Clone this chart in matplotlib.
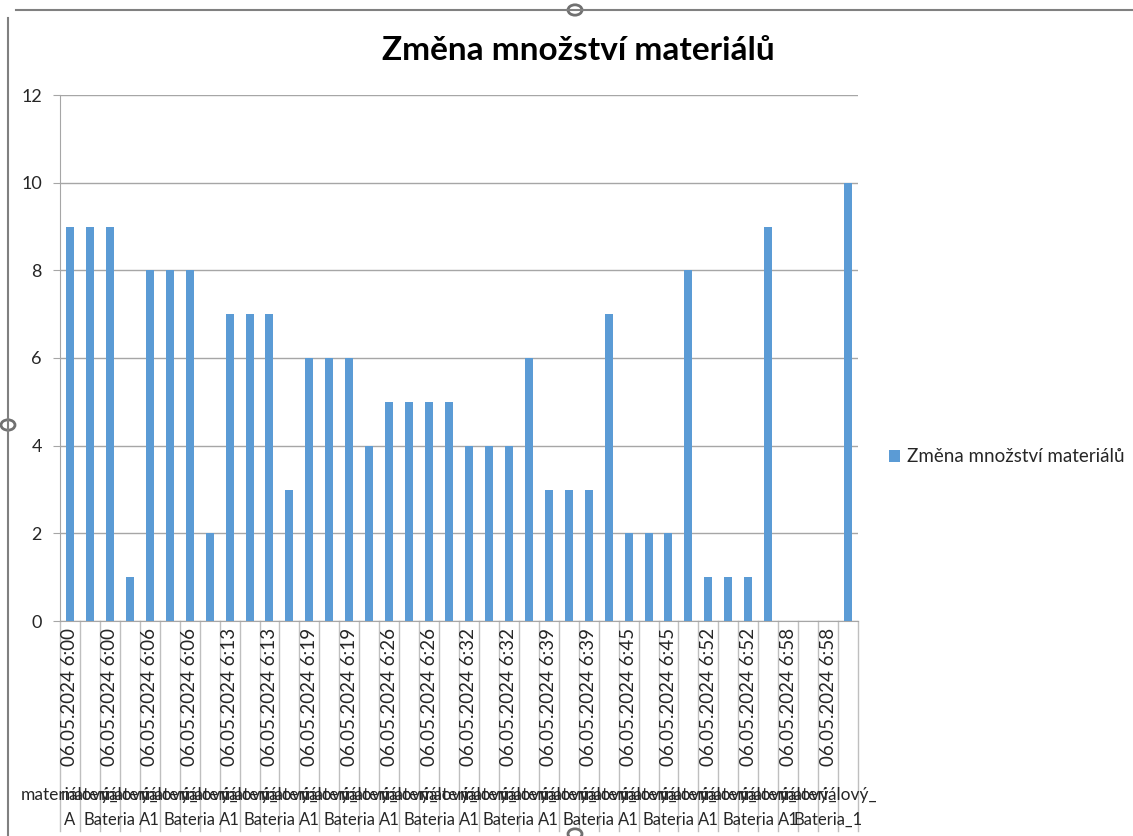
import matplotlib.pyplot as plt
from matplotlib.lines import Line2D
from matplotlib.patches import Circle
import numpy as np

plt.rcParams['font.family'] = ['Lato', 'DejaVu Sans']

# data
times = ["6:00", "6:06", "6:13", "6:19", "6:26", "6:32", "6:39", "6:45", "6:52", "6:58"]
dates = ["06.05.2024 " + t for t in times for _ in range(4)]
suffixes = ["A1", "Cm", "Bateria", "lab"]
names = ["materiálový_" + s for t in times for s in suffixes]
names[0] = "materiálový_A"
names[38] = "materiálový_Bateria_1"
values = [9, 9, 9, 1, 8, 8, 8, 2, 7, 7, 7, 3, 6, 6, 6, 4, 5, 5, 5, 5,
          4, 4, 4, 6, 3, 3, 3, 7, 2, 2, 2, 8, 1, 1, 1, 9, 0, 0, 0, 10]
series = "Změna množství materiálů"

W, H = 1133, 836
fig = plt.figure(figsize=(W / 100, H / 100), dpi=100)
ax = fig.add_axes([60 / W, 1 - 621 / H, 798 / W, 526 / H])

x = np.arange(len(values))
ax.bar(x, values, width=0.4, color="#5b9bd5", label=series, zorder=3)
ax.set_xlim(-0.5, len(values) - 0.5)
ax.set_ylim(0, 12)
ax.set_yticks(range(0, 13, 2))
ax.yaxis.grid(True, color="#a6a6a6", lw=1, zorder=0)
for s in ["top", "right"]:
    ax.spines[s].set_visible(False)
ax.spines["left"].set_color("#a6a6a6")
ax.spines["bottom"].set_color("#a6a6a6")
ax.tick_params(axis="y", length=5, color="#a6a6a6", labelsize=13, labelcolor="#262626", pad=8)
ax.set_xticks([])

# category separators below axis
tr = ax.get_xaxis_transform()
for b in np.arange(-0.5, len(values), 1.0):
    ax.plot([b, b], [0, -0.40], color="#bfbfbf", lw=1, transform=tr, clip_on=False)

for i in range(0, len(values), 2):
    ax.text(x[i], -0.013, dates[i], rotation=90, ha="center", va="top",
            fontsize=13.5, color="#262626", transform=tr)
    pre, suf = names[i].split("_", 1)
    ax.text(x[i], -0.331, pre + "_", ha="center", va="center",
            fontsize=12.5, color="#262626", transform=tr)
    ax.text(x[i], -0.378, suf, ha="center", va="center",
            fontsize=12, color="#262626", transform=tr)

fig.text(0.51, 1 - 50 / H, series, ha="center", va="center",
         fontsize=24, fontweight="bold", color="black")

fig.legend(loc="center left", bbox_to_anchor=(872 / W, 1 - 457 / H), frameon=False,
           handlelength=0.6, handleheight=0.6, handletextpad=0.35, fontsize=13.5,
           labelcolor="#262626")

# chart area frame and handles
fig.add_artist(Line2D([8 / W, 8 / W], [0, 1 - 18 / H], color="#808080", lw=1.5))
fig.add_artist(Line2D([16 / W, 1], [1 - 10 / H, 1 - 10 / H], color="#808080", lw=1.5))
for cx, cy in [(575, 10), (8, 425), (575, 834)]:
    fig.add_artist(Circle((cx / W, 1 - cy / H), 7 / W, transform=fig.transFigure,
                          facecolor="white", edgecolor="#707070", lw=2))

fig.savefig("out.png", dpi=100)
